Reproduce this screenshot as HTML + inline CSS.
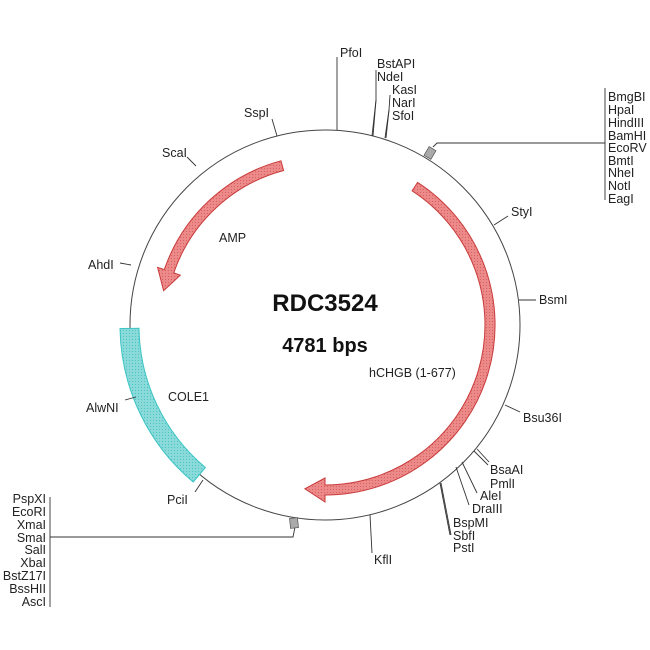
<!DOCTYPE html>
<html><head><meta charset="utf-8"><style>
html,body{margin:0;padding:0;background:#fff}
svg{display:block}
text{font-family:"Liberation Sans",Arial,sans-serif;font-size:12.5px;fill:#222}
</style></head><body>
<svg width="650" height="650" viewBox="0 0 650 650" xmlns="http://www.w3.org/2000/svg">
<defs>
<pattern id="dots" width="3" height="3" patternUnits="userSpaceOnUse">
<rect width="3" height="3" fill="#8adada"/><rect width="1" height="1" fill="#4cc4c4"/>
</pattern>
<pattern id="rdots" width="3" height="3" patternUnits="userSpaceOnUse">
<rect width="3" height="3" fill="#ec8a8a"/><rect width="1" height="1" fill="#d96060"/>
</pattern>
</defs>
<circle cx="325" cy="325" r="195" fill="none" stroke="#444" stroke-width="1"/>

<path d="M281.0,160.8 A170,170 0 0 0 164.3,269.6 L157.6,267.4 L163.6,290.7 L180.3,275.2 L173.7,272.9 A160,160 0 0 1 283.6,170.5 Z" fill="url(#rdots)" stroke="#c93a3a" stroke-width="1"/>
<path d="M417.6,182.4 A170,170 0 0 1 325,495 L325,502 L304.9,488.8 L325,478 L325,485 A160,160 0 0 0 412.1,190.8 Z" fill="url(#rdots)" stroke="#c93a3a" stroke-width="1"/>
<path d="M120.0,328.6 A205,205 0 0 0 193.2,482.0 L205.4,467.5 A186,186 0 0 1 139.0,328.2 Z" fill="url(#dots)" stroke="#3cc4c4" stroke-width="1"/>

<g stroke="#333" stroke-width="0.9" fill="none">
<line x1="337" y1="130" x2="337" y2="57"/>
<polyline points="372,136 376,100 376,70"/>
<polyline points="373,136 376,100"/>
<polyline points="385,138 389,110 390,95"/>
<polyline points="386,138 389,110"/>
<line x1="277" y1="136" x2="272" y2="119"/>
<polyline points="433,147 437,143 605,143"/>
<line x1="605" y1="88" x2="605" y2="200"/>
<line x1="494" y1="225" x2="508" y2="216"/>
<line x1="519" y1="300" x2="536" y2="300"/>
<line x1="505" y1="405" x2="520" y2="412"/>
<line x1="474" y1="451" x2="488" y2="465"/>
<line x1="477" y1="449" x2="489" y2="462"/>
<line x1="462" y1="462" x2="477" y2="493"/>
<line x1="456" y1="467" x2="469" y2="505"/>
<line x1="440" y1="483" x2="450" y2="535"/>
<line x1="441" y1="483" x2="451" y2="535"/>
<line x1="370" y1="515" x2="372" y2="553"/>
<polyline points="295,527 293,537 50,537"/>
<line x1="50" y1="497" x2="50" y2="607"/>
<line x1="203" y1="480" x2="195" y2="492"/>
<line x1="136" y1="397" x2="125" y2="400"/>
<line x1="131" y1="265" x2="120" y2="263"/>
<line x1="196" y1="166" x2="187" y2="157"/>
</g>
<rect x="-4" y="-5" width="8" height="10" fill="#aaa" stroke="#555" stroke-width="0.7" transform="translate(430,153) rotate(31)"/>
<rect x="-4" y="-5" width="8" height="10" fill="#aaa" stroke="#555" stroke-width="0.7" transform="translate(294,523) rotate(-6)"/>

<text x="340" y="57">PfoI</text>
<text x="377" y="68">BstAPI</text>
<text x="377" y="81">NdeI</text>
<text x="392" y="94">KasI</text>
<text x="392" y="107">NarI</text>
<text x="392" y="120">SfoI</text>
<text x="244" y="117">SspI</text>
<text x="162" y="157">ScaI</text>
<text x="88" y="269">AhdI</text>
<text x="86" y="412">AlwNI</text>
<text x="167" y="504">PciI</text>
<g>
<text x="608" y="101">BmgBI</text>
<text x="608" y="114">HpaI</text>
<text x="608" y="127">HindIII</text>
<text x="608" y="140">BamHI</text>
<text x="608" y="152">EcoRV</text>
<text x="608" y="165">BmtI</text>
<text x="608" y="177">NheI</text>
<text x="608" y="190">NotI</text>
<text x="608" y="203">EagI</text>
</g>
<text x="511" y="216">StyI</text>
<text x="539" y="304">BsmI</text>
<text x="523" y="422">Bsu36I</text>
<text x="490" y="474">BsaAI</text>
<text x="490" y="488">PmlI</text>
<text x="480" y="500">AleI</text>
<text x="472" y="513">DraIII</text>
<text x="453" y="527">BspMI</text>
<text x="453" y="540">SbfI</text>
<text x="453" y="552">PstI</text>
<text x="374" y="564">KflI</text>
<g text-anchor="end">
<text x="46" y="503">PspXI</text>
<text x="46" y="516">EcoRI</text>
<text x="46" y="529">XmaI</text>
<text x="46" y="542">SmaI</text>
<text x="46" y="554">SalI</text>
<text x="46" y="567">XbaI</text>
<text x="46" y="580">BstZ17I</text>
<text x="46" y="593">BssHII</text>
<text x="46" y="606">AscI</text>
</g>
<text x="219" y="242">AMP</text>
<text x="168" y="401">COLE1</text>
<text x="369" y="377">hCHGB (1-677)</text>
<text x="325" y="311" text-anchor="middle" style="font-size:24px;font-weight:bold;fill:#111">RDC3524</text>
<text x="325" y="352" text-anchor="middle" style="font-size:20px;font-weight:bold;fill:#111">4781 bps</text>
</svg>
</body></html>
